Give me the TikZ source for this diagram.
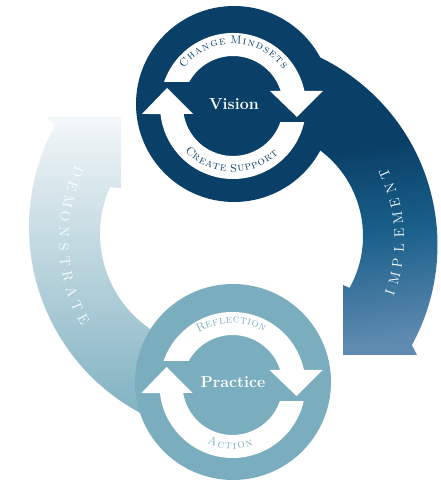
\documentclass[tikz,border=0pt]{standalone}
\usetikzlibrary{positioning}

\definecolor{visionblue}{HTML}{0A4068}
\definecolor{practiceblue}{HTML}{7AAEBE}
\definecolor{implmid}{HTML}{195F8A}
\definecolor{impllow}{HTML}{5E8AAF}
\definecolor{demotop}{HTML}{F3F7F9}

\pgfdeclareverticalshading{implshade}{100bp}{color(0bp)=(impllow); color(25bp)=(impllow);
  color(42bp)=(implmid); color(55bp)=(visionblue); color(100bp)=(visionblue)}

\tikzset{
  hub/.style={circle, minimum size=196pt, inner sep=0pt, text=white, font=\bfseries\fontsize{16}{16}\selectfont},
  ringletter/.style={anchor=base, inner sep=0pt, font=\fontsize{11.5}{11.5}\selectfont\scshape},
  bigletter/.style={anchor=base, inner sep=0pt, text=white, font=\fontsize{14}{14}\selectfont},
  implband/.style={shading=implshade, shading angle=8},
  demoband/.style={top color=demotop, bottom color=practiceblue},
  cyclering/.pic={
    \fill[white] (160.8:73pt) arc[start angle=160.8, end angle=11.9, radius=73pt]
      -- (90,15) -- (64,-11) -- (37,15)
      -- (17.5:50pt) arc[start angle=17.5, end angle=151.3, radius=50pt] -- cycle;
    \fill[white] (-12.7:73pt) arc[start angle=-12.7, end angle=-173.7, radius=73pt]
      -- (-91,-8) -- (-66,18) -- (-40,-8)
      -- (-170.8:50pt) arc[start angle=-170.8, end angle=-18.7, radius=50pt] -- cycle;
  }
}

\begin{document}
\begin{tikzpicture}[x=1pt, y=1pt]
  \useasboundingbox (0,0) rectangle (440,485);

  % the two big arrows, under the hubs
  \path[demoband] ([shift={(240,258)}]255:211pt) arc[start angle=255, end angle=151.1, radius=211pt]
    -- (47,368) -- (121,368) -- (121,297)
    -- ([shift={(215,251)}]155.9:115pt) arc[start angle=155.9, end angle=290, radius=115pt] -- cycle;
  \path[implband] ([shift={(229,240)}]100:208.5pt) arc[start angle=100, end angle=-28.7, radius=208.5pt]
    -- (417,130) -- (343,130) -- (343,200)
    -- ([shift={(256,249)}]-29:107pt) arc[start angle=-29, end angle=110, radius=107pt] -- cycle;

  % hubs
  \node[hub, fill=visionblue] (vision) at (234,381) {Vision};
  \node[hub, fill=practiceblue] (practice) at (233,103) {Practice};
  \pic (visionring) at (233,379) {cyclering};
  \pic (practicering) at (232.5,100) {cyclering};

  % ring texts, letter/angle
  \begin{scope}[shift={(233,379)}]
    \foreach \ch/\a [count=\i] in {C/138.2, h/130.1, a/122.5, n/114.9, g/107.1, e/99.5,
        M/87.3, i/79.7, n/73.7, d/65.9, s/59, e/52.4, t/45, s/38.4}
      \node[ringletter, text=visionblue, rotate=\a-90] (chg\i) at (\a:62pt) {\ch};
    \foreach \ch/\a [count=\i] in {C/227.2, r/234.4, e/241.1, a/247.9, t/254.6, e/261.2,
        S/270.6, u/277.2, p/283.8, p/290.1, o/296.8, r/303.8, t/310.5}
      \node[ringletter, text=visionblue, rotate=\a+90] (crt\i) at (\a:66pt) {\ch};
  \end{scope}
  \begin{scope}[shift={(232.5,100)}]
    \foreach \ch/\a [count=\i] in {R/118.7, e/111.6, f/105.3, l/99.3, e/93.2, c/86.7,
        t/80.2, i/75, o/69.5, n/62.7}
      \node[ringletter, text=practiceblue, rotate=\a-90] (refl\i) at (\a:62pt) {\ch};
    \foreach \ch/\a [count=\i] in {A/251, c/259.1, t/266.2, i/272, o/278.1, n/285.7}
      \node[ringletter, text=practiceblue, rotate=\a+90] (act\i) at (\a:64pt) {\ch};
  \end{scope}

  % big arrow texts
  \begin{scope}[shift={(242,245)}]
    \foreach \ch [count=\i from 0] in {I,M,P,L,E,M,E,N,T} {
      \pgfmathsetmacro\a{-19.7+5.56*\i}
      \node[bigletter, rotate=\a+90] (impl\i) at (\a:162pt) {\ch};
    }
  \end{scope}
  \begin{scope}[shift={(234,245)}]
    \foreach \ch [count=\i from 0] in {D,E,M,O,N,S,T,R,A,T,E} {
      \pgfmathsetmacro\a{156.6+5.13*\i}
      \node[bigletter, rotate=\a+90] (demo\i) at (\a:175pt) {\ch};
    }
  \end{scope}
\end{tikzpicture}
\end{document}
